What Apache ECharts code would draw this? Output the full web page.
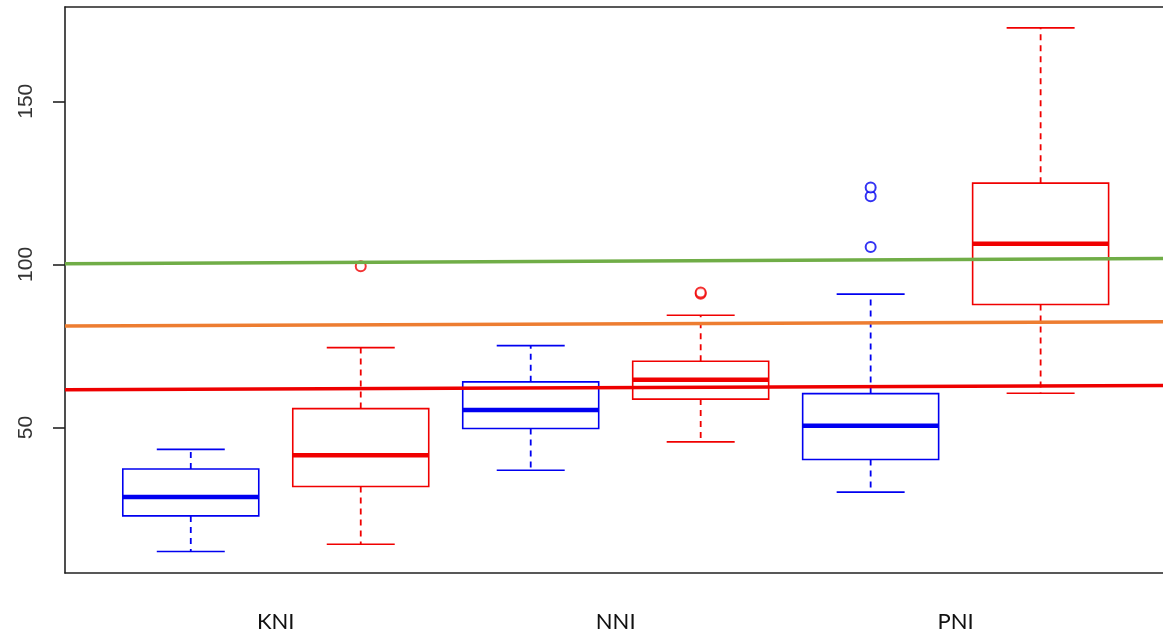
<!DOCTYPE html>
<html>
<head>
<meta charset="utf-8">
<script src="https://cdn.jsdelivr.net/npm/echarts@6/dist/echarts.min.js"></script>
<style>
html,body{margin:0;padding:0;background:#fff;}
#chart{width:1163px;height:636px;}
</style>
</head>
<body>
<div id="chart"></div>
<script>
// ---- data ----
const categories = ['KNI', 'NNI', 'PNI'];
// [min, Q1, median, Q3, max] per category
const blueStats = [
  [12.0, 22.9, 28.7, 37.3, 43.3],
  [36.9, 49.7, 55.4, 64.0, 75.1],
  [30.2, 40.2, 50.5, 60.4, 90.9]
];
const redStats = [
  [14.2, 31.9, 41.5, 55.8, 74.5],
  [45.6, 58.7, 64.6, 70.3, 84.4],
  [60.5, 87.7, 106.3, 124.9, 172.5]
];
const blueOutliers = [[], [], [105.3, 120.9, 123.6]];
const redOutliers = [[99.4], [91.0, 91.4], []];
// reference lines: [value at left edge, value at right edge]
const greenLine = [100.2, 101.8];
const orangeLine = [81.1, 82.4];
const redLine = [61.6, 62.9];
const yTicks = [50, 100, 150];

// ---- build ----
const X_MIN = 0.26, X_MAX = 6.72;
const BLUE = '#0000F0', RED = '#F00000';

function boxData(stats, offset) {
  return stats.map((s, i) => [2 * i + 1 + offset].concat(s));
}
function outlierData(outs, offset) {
  const r = [];
  outs.forEach((arr, i) => arr.forEach(v => r.push([2 * i + 1 + offset, v])));
  return r;
}

function makeRender(color) {
  return function (params, api) {
    const x = api.value(0);
    const cx = api.coord([x, 0])[0];
    const yMin = api.coord([x, api.value(1)])[1];
    const yQ1 = api.coord([x, api.value(2)])[1];
    const yMed = api.coord([x, api.value(3)])[1];
    const yQ3 = api.coord([x, api.value(4)])[1];
    const yMax = api.coord([x, api.value(5)])[1];
    const half = api.size([0.4, 0])[0];
    const cap = half / 2;
    const solid = { stroke: color, lineWidth: 1.6, fill: null };
    const dashed = { stroke: color, lineWidth: 1.8, lineDash: [6, 5], fill: null };
    return {
      type: 'group',
      children: [
        { type: 'line', shape: { x1: cx, y1: yQ3, x2: cx, y2: yMax }, style: dashed },
        { type: 'line', shape: { x1: cx, y1: yQ1, x2: cx, y2: yMin }, style: dashed },
        { type: 'line', shape: { x1: cx - cap, y1: yMax, x2: cx + cap, y2: yMax }, style: solid },
        { type: 'line', shape: { x1: cx - cap, y1: yMin, x2: cx + cap, y2: yMin }, style: solid },
        { type: 'rect', shape: { x: cx - half, y: yQ3, width: 2 * half, height: yQ1 - yQ3 }, style: solid },
        { type: 'line', shape: { x1: cx - half, y1: yMed, x2: cx + half, y2: yMed }, style: { stroke: color, lineWidth: 4.5 } }
      ]
    };
  };
}

function refSeries(vals, color) {
  return {
    type: 'line',
    data: [[X_MIN, vals[0]], [X_MAX, vals[1]]],
    symbol: 'none',
    lineStyle: { color: color, width: 3.5 },
    z: 5,
    silent: true,
    animation: false
  };
}

const chart = echarts.init(document.getElementById('chart'), null, { renderer: 'canvas' });
chart.setOption({
  animation: false,
  backgroundColor: '#fff',
  grid: { left: 65, right: 0, top: 7, bottom: 63, show: false },
  xAxis: [{
    type: 'value', min: X_MIN, max: X_MAX, position: 'bottom',
    splitLine: { show: false },
    axisLine: { show: true, onZero: false, lineStyle: { color: '#222', width: 1.6 } },
    axisTick: { show: false },
    axisLabel: {
      customValues: [1.5, 3.5, 5.5],
      formatter: v => categories[Math.round((v - 1.5) / 2)],
      fontFamily: 'Lato', fontSize: 22, color: '#111', margin: 38
    }
  }, {
    type: 'value', min: X_MIN, max: X_MAX, position: 'top',
    splitLine: { show: false },
    axisLine: { show: true, onZero: false, lineStyle: { color: '#222', width: 1.6 } },
    axisTick: { show: false },
    axisLabel: { show: false }
  }],
  yAxis: {
    type: 'value', min: 5.4, max: 178.9,
    splitLine: { show: false },
    axisLine: { show: true, onZero: false, lineStyle: { color: '#222', width: 1.6 } },
    axisTick: { show: true, customValues: yTicks, length: 12, lineStyle: { color: '#222', width: 1.6 } },
    axisLabel: {
      customValues: yTicks, rotate: 90, margin: 28,
      fontFamily: 'Liberation Sans', fontSize: 21, color: '#333'
    }
  },
  series: [
    { type: 'custom', renderItem: makeRender(BLUE), data: boxData(blueStats, 0), encode: { x: 0, y: [1, 2, 3, 4, 5] }, z: 2 },
    { type: 'custom', renderItem: makeRender(RED), data: boxData(redStats, 1), encode: { x: 0, y: [1, 2, 3, 4, 5] }, z: 2 },
    { type: 'scatter', data: outlierData(blueOutliers, 0), symbol: 'emptyCircle', symbolSize: 10,
      itemStyle: { color: BLUE, borderColor: BLUE, borderWidth: 1.5 }, z: 3 },
    { type: 'scatter', data: outlierData(redOutliers, 1), symbol: 'emptyCircle', symbolSize: 10,
      itemStyle: { color: RED, borderColor: RED, borderWidth: 1.5 }, z: 3 },
    refSeries(greenLine, '#70AD47'),
    refSeries(orangeLine, '#ED7D31'),
    refSeries(redLine, '#EE0000')
  ]
});
</script>
</body>
</html>
